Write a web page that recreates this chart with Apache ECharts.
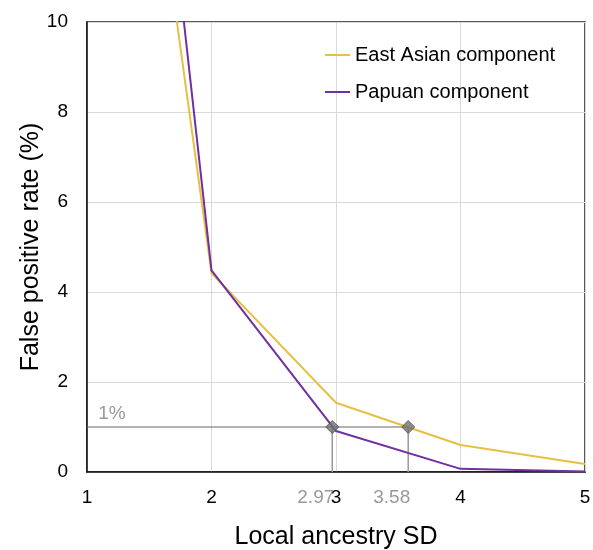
<!DOCTYPE html>
<html>
<head>
<meta charset="utf-8">
<script src="https://cdn.jsdelivr.net/npm/echarts@6/dist/echarts.min.js"></script>
<style>
  html, body { margin: 0; padding: 0; background: #fff; }
  #chart { width: 593px; height: 550px; }
</style>
</head>
<body>
<div id="chart"></div>
<script>
// Local ancestry SD threshold vs false positive rate
const sdValues = [1, 2, 3, 4, 5];
const eastAsian = [24.5, 4.42, 1.54, 0.6, 0.18];
const papuan = [29.4, 4.48, 0.91, 0.07, 0.01];

// SD thresholds at which each component reaches a 1% false positive rate
const cutoffRate = 1;
const cutoffSD = [2.97, 3.58];
const cutoffLabels = ['2.97', '3.58'];

const FONT = '"Liberation Sans", Arial, sans-serif';
const GRAY = '#808080';

const pairs = (xs, ys) => xs.map((x, i) => [x, ys[i]]);

const chart = echarts.init(document.getElementById('chart'));
chart.setOption({
  animation: false,
  textStyle: { fontFamily: FONT },
  grid: {
    left: 87, right: 8, top: 22, bottom: 78,
    containLabel: false, outerBoundsMode: 'none',
    show: true, borderColor: '#222', borderWidth: 1.5
  },
  legend: {
    orient: 'vertical',
    left: 325, top: 45, padding: 0,
    icon: 'rect',
    itemWidth: 25, itemHeight: 2, itemGap: 17,
    data: ['East Asian component', 'Papuan component'],
    textStyle: { fontFamily: FONT, fontSize: 20, color: '#000' }
  },
  xAxis: {
    type: 'value', min: 1, max: 5, interval: 1,
    name: 'Local ancestry SD', nameLocation: 'middle', nameGap: 53,
    nameTextStyle: { fontFamily: FONT, fontSize: 25, color: '#000' },
    axisLine: { lineStyle: { color: '#111', width: 1.5 } },
    axisTick: { show: false },
    axisLabel: { fontFamily: FONT, fontSize: 19, color: '#000', margin: 16 },
    splitLine: { show: true, lineStyle: { color: '#d9d9d9', width: 1 } }
  },
  yAxis: {
    type: 'value', min: 0, max: 10, interval: 2,
    name: 'False positive rate (%)', nameLocation: 'middle', nameGap: 43,
    nameMoveOverlap: false,
    nameTextStyle: { fontFamily: FONT, fontSize: 25, color: '#000' },
    axisLine: { show: true, lineStyle: { color: '#111', width: 1.5 } },
    axisTick: { show: false },
    axisLabel: { fontFamily: FONT, fontSize: 19, color: '#000', margin: 19 },
    splitLine: { show: true, lineStyle: { color: '#d9d9d9', width: 1 } }
  },
  series: [
    {
      name: 'East Asian component', type: 'line', symbol: 'none', clip: true,
      data: pairs(sdValues, eastAsian),
      lineStyle: { color: '#e6c040', width: 2 }, itemStyle: { color: '#e6c040' },
      z: 3
    },
    {
      name: 'Papuan component', type: 'line', symbol: 'none', clip: true,
      data: pairs(sdValues, papuan),
      lineStyle: { color: '#7030a0', width: 2 }, itemStyle: { color: '#7030a0' },
      z: 4
    },
    // 1% reference line
    {
      type: 'line', symbol: 'none', silent: true,
      data: [[1, cutoffRate], [cutoffSD[1], cutoffRate]],
      lineStyle: { color: '#666', width: 1.2 }, z: 2
    },
    // drop lines from each cutoff to the axis
    ...cutoffSD.map(sd => ({
      type: 'line', symbol: 'none', silent: true,
      data: [[sd, 0], [sd, cutoffRate]],
      lineStyle: { color: '#999', width: 1.5 }, z: 2
    })),
    // cutoff markers
    {
      type: 'scatter', symbol: 'diamond', symbolSize: 13, silent: true,
      data: cutoffSD.map(sd => [sd, cutoffRate]),
      itemStyle: { color: '#707070', borderColor: '#505050', borderWidth: 1 }, z: 6
    },
    // cutoff value labels beneath the axis
    {
      type: 'scatter', symbolSize: 0, silent: true,
      data: cutoffSD.map((sd, i) => ({ value: [sd, 0], label: { formatter: cutoffLabels[i] } })),
      label: {
        show: true, position: 'bottom', distance: 16, align: 'right', offset: [2, 0],
        fontFamily: FONT, fontSize: 19, color: GRAY
      },
      z: 6
    },
    // "1%" caption over the reference line
    {
      type: 'scatter', symbolSize: 0, silent: true,
      data: [[1.2, cutoffRate]],
      label: {
        show: true, position: 'top', distance: 4, formatter: '1%',
        fontFamily: FONT, fontSize: 19, color: GRAY
      },
      z: 6
    }
  ]
});
</script>
</body>
</html>
